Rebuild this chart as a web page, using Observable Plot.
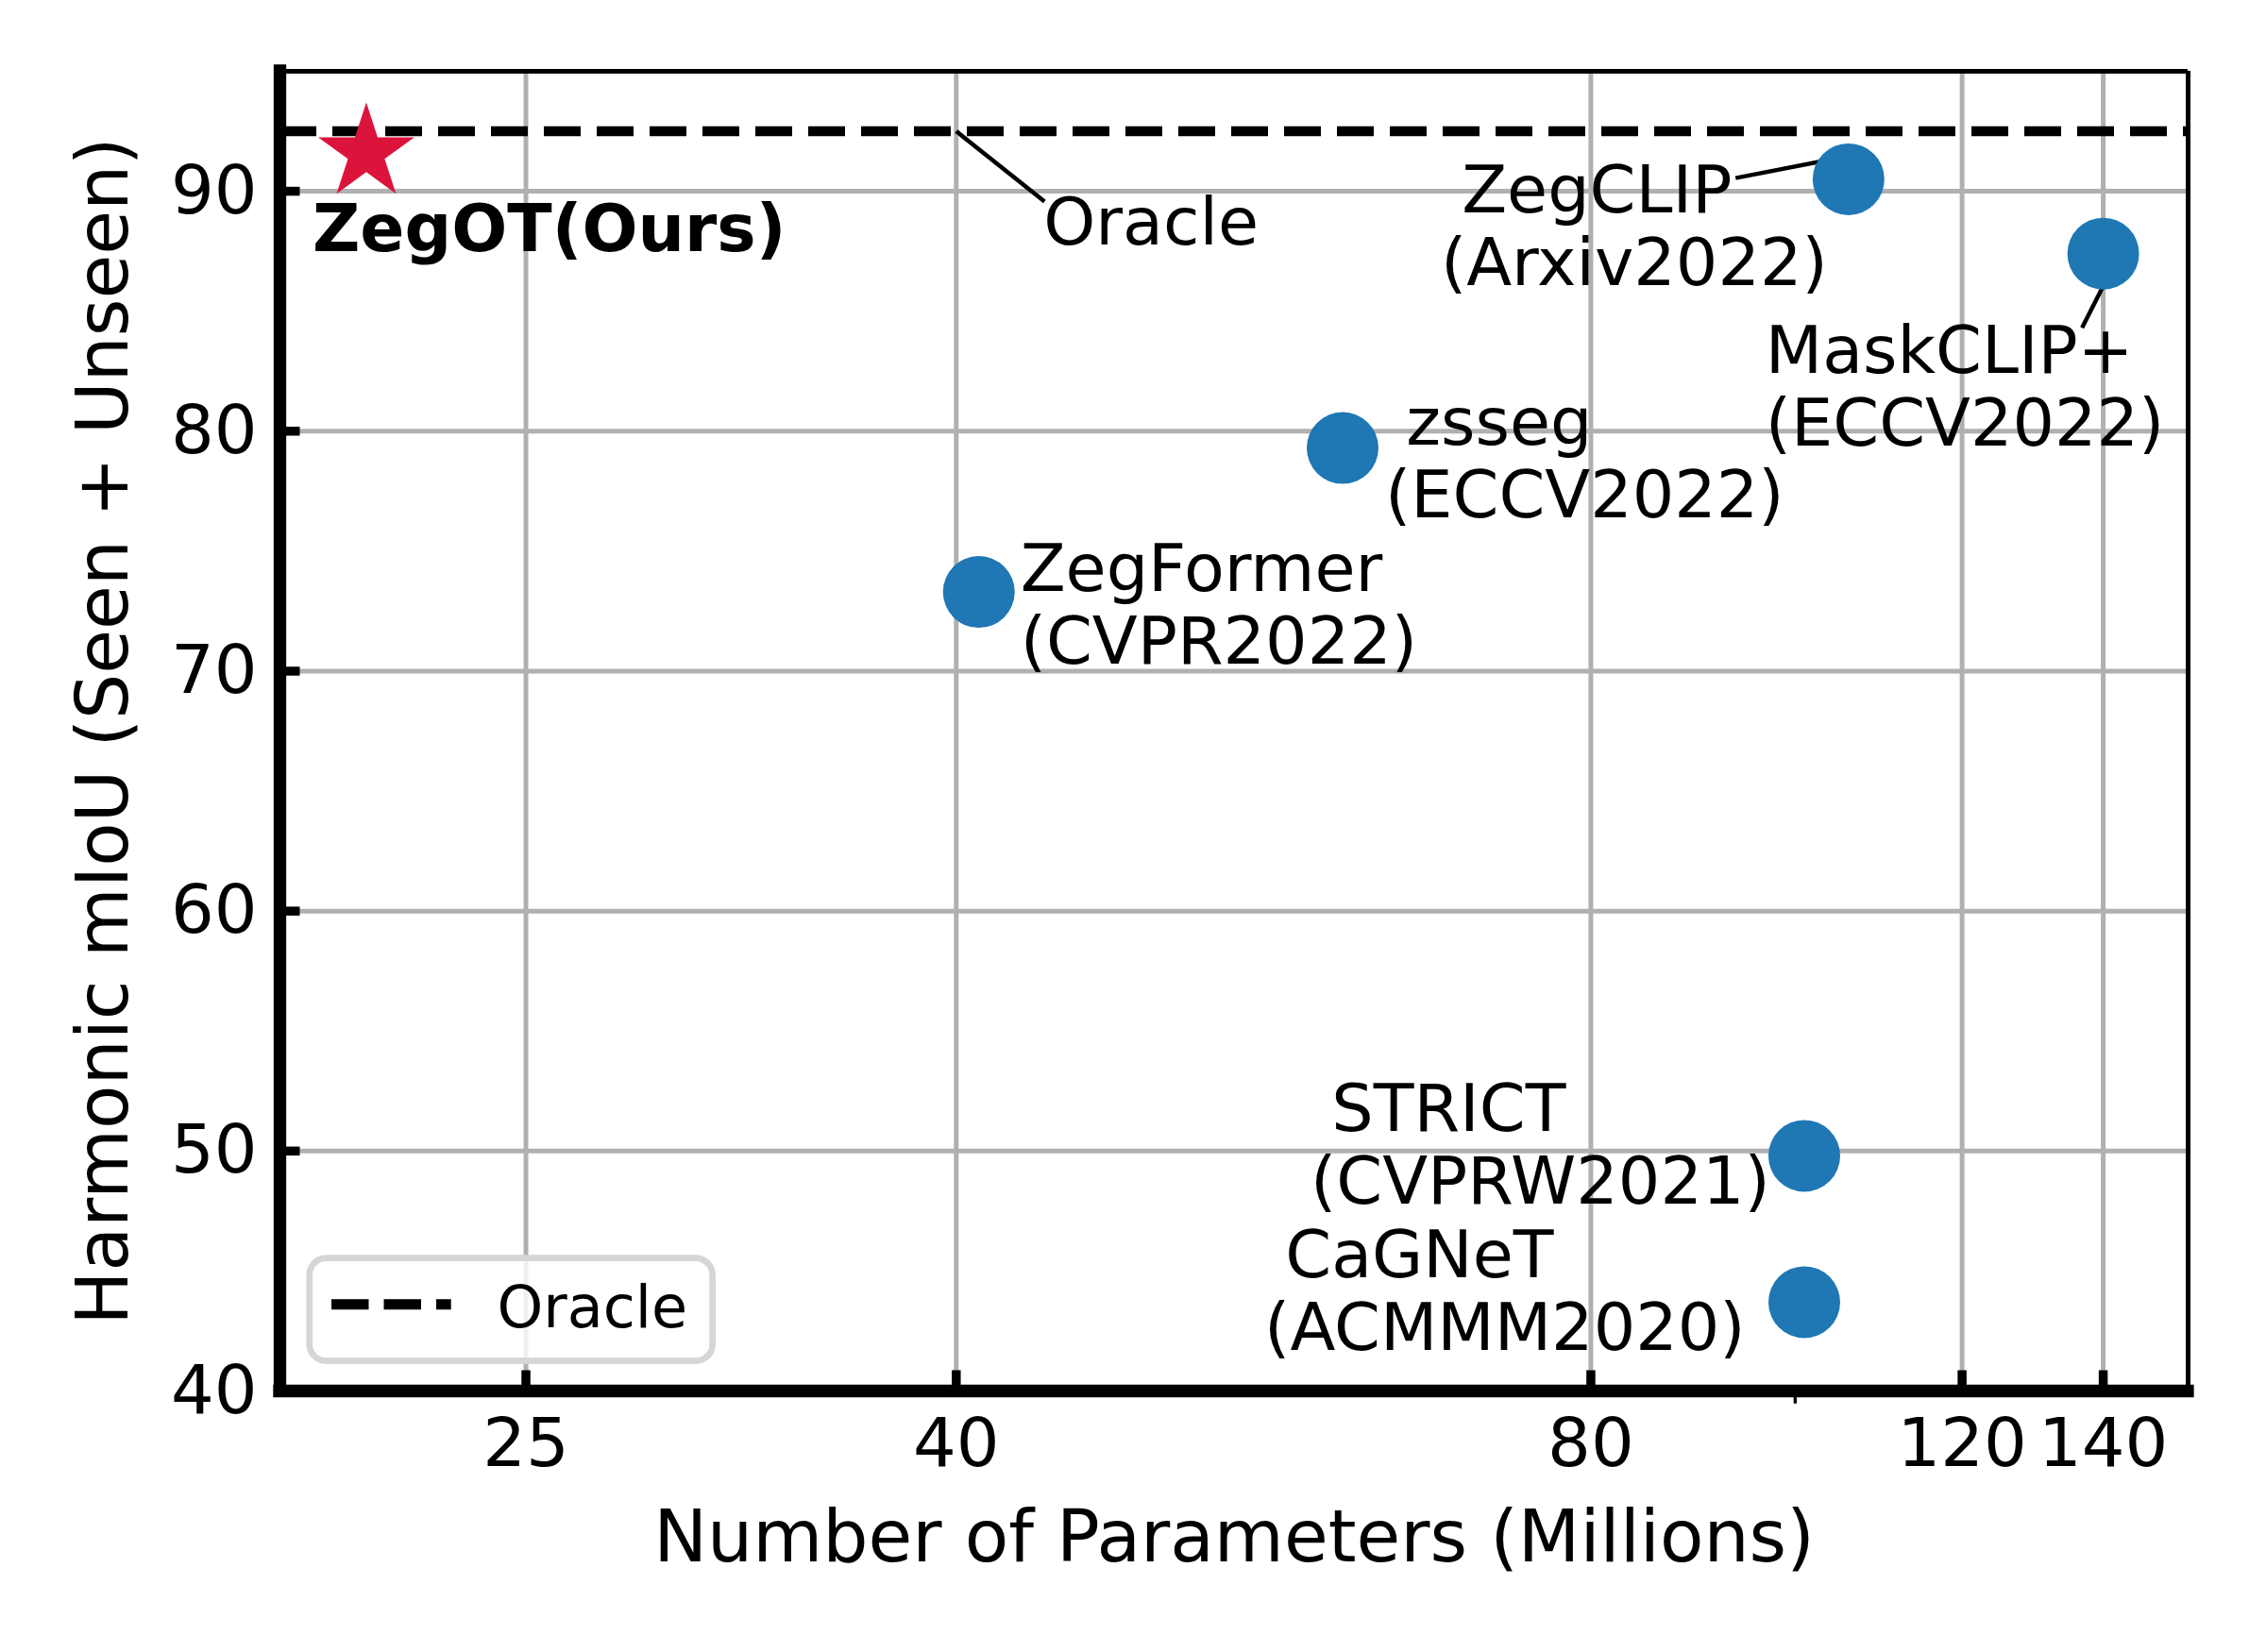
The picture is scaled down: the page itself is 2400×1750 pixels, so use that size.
<!DOCTYPE html>
<html>
<head>
<meta charset="utf-8">
<script src="https://cdn.jsdelivr.net/npm/d3@7"></script>
<script src="https://cdn.jsdelivr.net/npm/@observablehq/plot@0.6"></script>
<style>
  html, body { margin: 0; padding: 0; background: #fff; }
  #chart svg { display: block; }
</style>
</head>
<body>
<div id="chart"></div>
<script>
// ---------- data ----------
const methods = ["ZegFormer", "zsseg", "ZegCLIP", "MaskCLIP+", "STRICT", "CaGNeT"];
const labels = ["ZegFormer\n(CVPR2022)", " zsseg\n(ECCV2022)", " ZegCLIP\n(Arxiv2022)", "MaskCLIP+\n(ECCV2022)", " STRICT\n(CVPRW2021)", " CaGNeT\n(ACMMM2020)"];
const params = [41.0, 61.0, 106.0, 140.0, 101.0, 101.0];      // millions
const hmiou = [73.3, 79.3, 90.5, 87.4, 49.8, 43.7];
const labelX = [42.9, 63.9, 67.9, 96.8, 58.9, 56.0];            // annotation text anchors (data units)
const labelY = [70.3, 76.4, 86.1, 79.4, 47.8, 41.7];

const oursName = "ZegOT(Ours)";
const oursParams = [21.0];
const oursHmiou = [91.6];
const oursLabelX = 19.8, oursLabelY = 87.5;

const oracleValue = 92.5;
const oracleLabel = "Oracle";
const oracleLabelX = 44.0, oracleLabelY = 87.8;

const connX1 = [40.0, 93.7, 136.8];
const connY1 = [92.5, 90.55, 84.31];
const connX2 = [44.05, 105.9, 140.7];
const connY2 = [89.57, 91.46, 86.42];

const xTicks = [25, 40, 80, 120, 140];
const xMinorTicks = [100];
const yTicks = [40, 50, 60, 70, 80, 90];
const xDomain = [19.11, 153.6];
const yDomain = [40, 95];
const xLabel = "Number of Parameters (Millions)";
const yLabel = "Harmonic mIoU (Seen + Unseen)";

// ---------- chart ----------
const W = 2400, H = 1750;
const idx = d3.range(params.length);
const connIdx = d3.range(connX1.length);

const plot = Plot.plot({
  width: W, height: H,
  marginLeft: 296, marginRight: 83, marginTop: 75, marginBottom: 277,
  style: {fontFamily: "'DejaVu Sans', sans-serif", fontSize: "72px", color: "#000", background: "#fff", overflow: "visible"},
  x: {type: "log", domain: xDomain, nice: false},
  y: {type: "linear", domain: yDomain, nice: false},
  marks: [
    // grid
    Plot.ruleX(xTicks, {x: d => d, stroke: "#b0b0b0", strokeWidth: 5}),
    Plot.ruleY(yTicks, {y: d => d, stroke: "#b0b0b0", strokeWidth: 5}),
    // oracle line
    Plot.ruleY([oracleValue], {y: d => d, stroke: "#000", strokeWidth: 10.5, strokeDasharray: "39,17"}),
    // connectors
    Plot.link(connIdx, {x1: i => connX1[i], y1: i => connY1[i], x2: i => connX2[i], y2: i => connY2[i], stroke: "#000", strokeWidth: 4.5}),
    // annotation texts
    Plot.text(idx, {x: i => labelX[i], y: i => labelY[i], text: i => labels[i].replace(/^ /, "\u00a0"),
      textAnchor: "start", lineAnchor: "bottom", lineHeight: 1.1, fontSize: 70, fill: "#000"}),
    Plot.text([oursName], {x: () => oursLabelX, y: () => oursLabelY, text: d => d, textAnchor: "start", lineAnchor: "bottom",
      fontSize: 69.5, fontWeight: "bold", fill: "#000"}),
    Plot.text([oracleLabel], {x: () => oracleLabelX, y: () => oracleLabelY, text: d => d, textAnchor: "start", lineAnchor: "bottom",
      fontSize: 70, fill: "#000"}),
    // points
    Plot.dot(idx, {x: i => params[i], y: i => hmiou[i], r: 38, fill: "#1f77b4", stroke: null}),
    Plot.dot(d3.range(oursParams.length), {x: i => oursParams[i], y: i => oursHmiou[i], symbol: "star", r: 32, fill: "#dc143c", stroke: null}),
    // spines
    Plot.ruleX([xDomain[1]], {x: d => d, stroke: "#000", strokeWidth: 5}),
    Plot.ruleY([yDomain[1]], {y: d => d, stroke: "#000", strokeWidth: 5}),
    Plot.ruleX([xDomain[0]], {x: d => d, stroke: "#000", strokeWidth: 13.3, strokeLinecap: "square"}),
    Plot.ruleY([yDomain[0]], {y: d => d, stroke: "#000", strokeWidth: 13.3, strokeLinecap: "square"}),
    // inward major ticks
    Plot.ruleX(xTicks, {x: d => d, y1: () => yDomain[0], y2: () => yDomain[0], insetTop: -21.5, stroke: "#000", strokeWidth: 9.5}),
    Plot.ruleY(yTicks.filter(v => v > yDomain[0]), {y: d => d, x1: () => xDomain[0], x2: () => xDomain[0], insetRight: -21.5, stroke: "#000", strokeWidth: 9.5}),
    // outward minor tick
    Plot.ruleX(xMinorTicks, {x: d => d, y1: () => yDomain[0], y2: () => yDomain[0], insetBottom: -13.7, stroke: "#000", strokeWidth: 3.3}),
    // tick labels
    Plot.axisX(xTicks, {tickSize: 0, tickPadding: 28, tickFormat: d => String(d), label: null, fontSize: 72, fill: "#000"}),
    Plot.axisY(yTicks, {tickSize: 0, tickPadding: 24, tickFormat: d => String(d), label: null, fontSize: 72, fill: "#000"}),
    // axis titles
    Plot.text([xLabel], {frameAnchor: "bottom", dy: 180, lineAnchor: "bottom", textAnchor: "middle", fontSize: 76, fill: "#000"}),
    Plot.text([yLabel], {frameAnchor: "left", dx: -162, rotate: -90, lineAnchor: "bottom", textAnchor: "middle", fontSize: 76, fill: "#000"})
  ]
});

// ---------- legend ----------
const svg = d3.select(plot);
const lg = svg.append("g").attr("class", "legend").attr("text-anchor", "start");
lg.append("rect")
  .attr("x", 327.7).attr("y", 1332.7).attr("width", 427).attr("height", 109).attr("rx", 18)
  .attr("fill", "rgba(255,255,255,0.8)").attr("stroke", "#d6d6d6").attr("stroke-width", 6.7);
lg.append("line")
  .attr("x1", 351).attr("x2", 477.7).attr("y1", 1381.7).attr("y2", 1381.7)
  .attr("stroke", "#000").attr("stroke-width", 11).attr("stroke-dasharray", "39.5,16");
lg.append("text")
  .attr("x", 526.5).attr("y", 1406).attr("font-size", 62).attr("fill", "#000")
  .attr("text-anchor", "start")
  .attr("font-family", "'DejaVu Sans', sans-serif")
  .text(oracleLabel);

document.getElementById("chart").appendChild(plot);
</script>
</body>
</html>
